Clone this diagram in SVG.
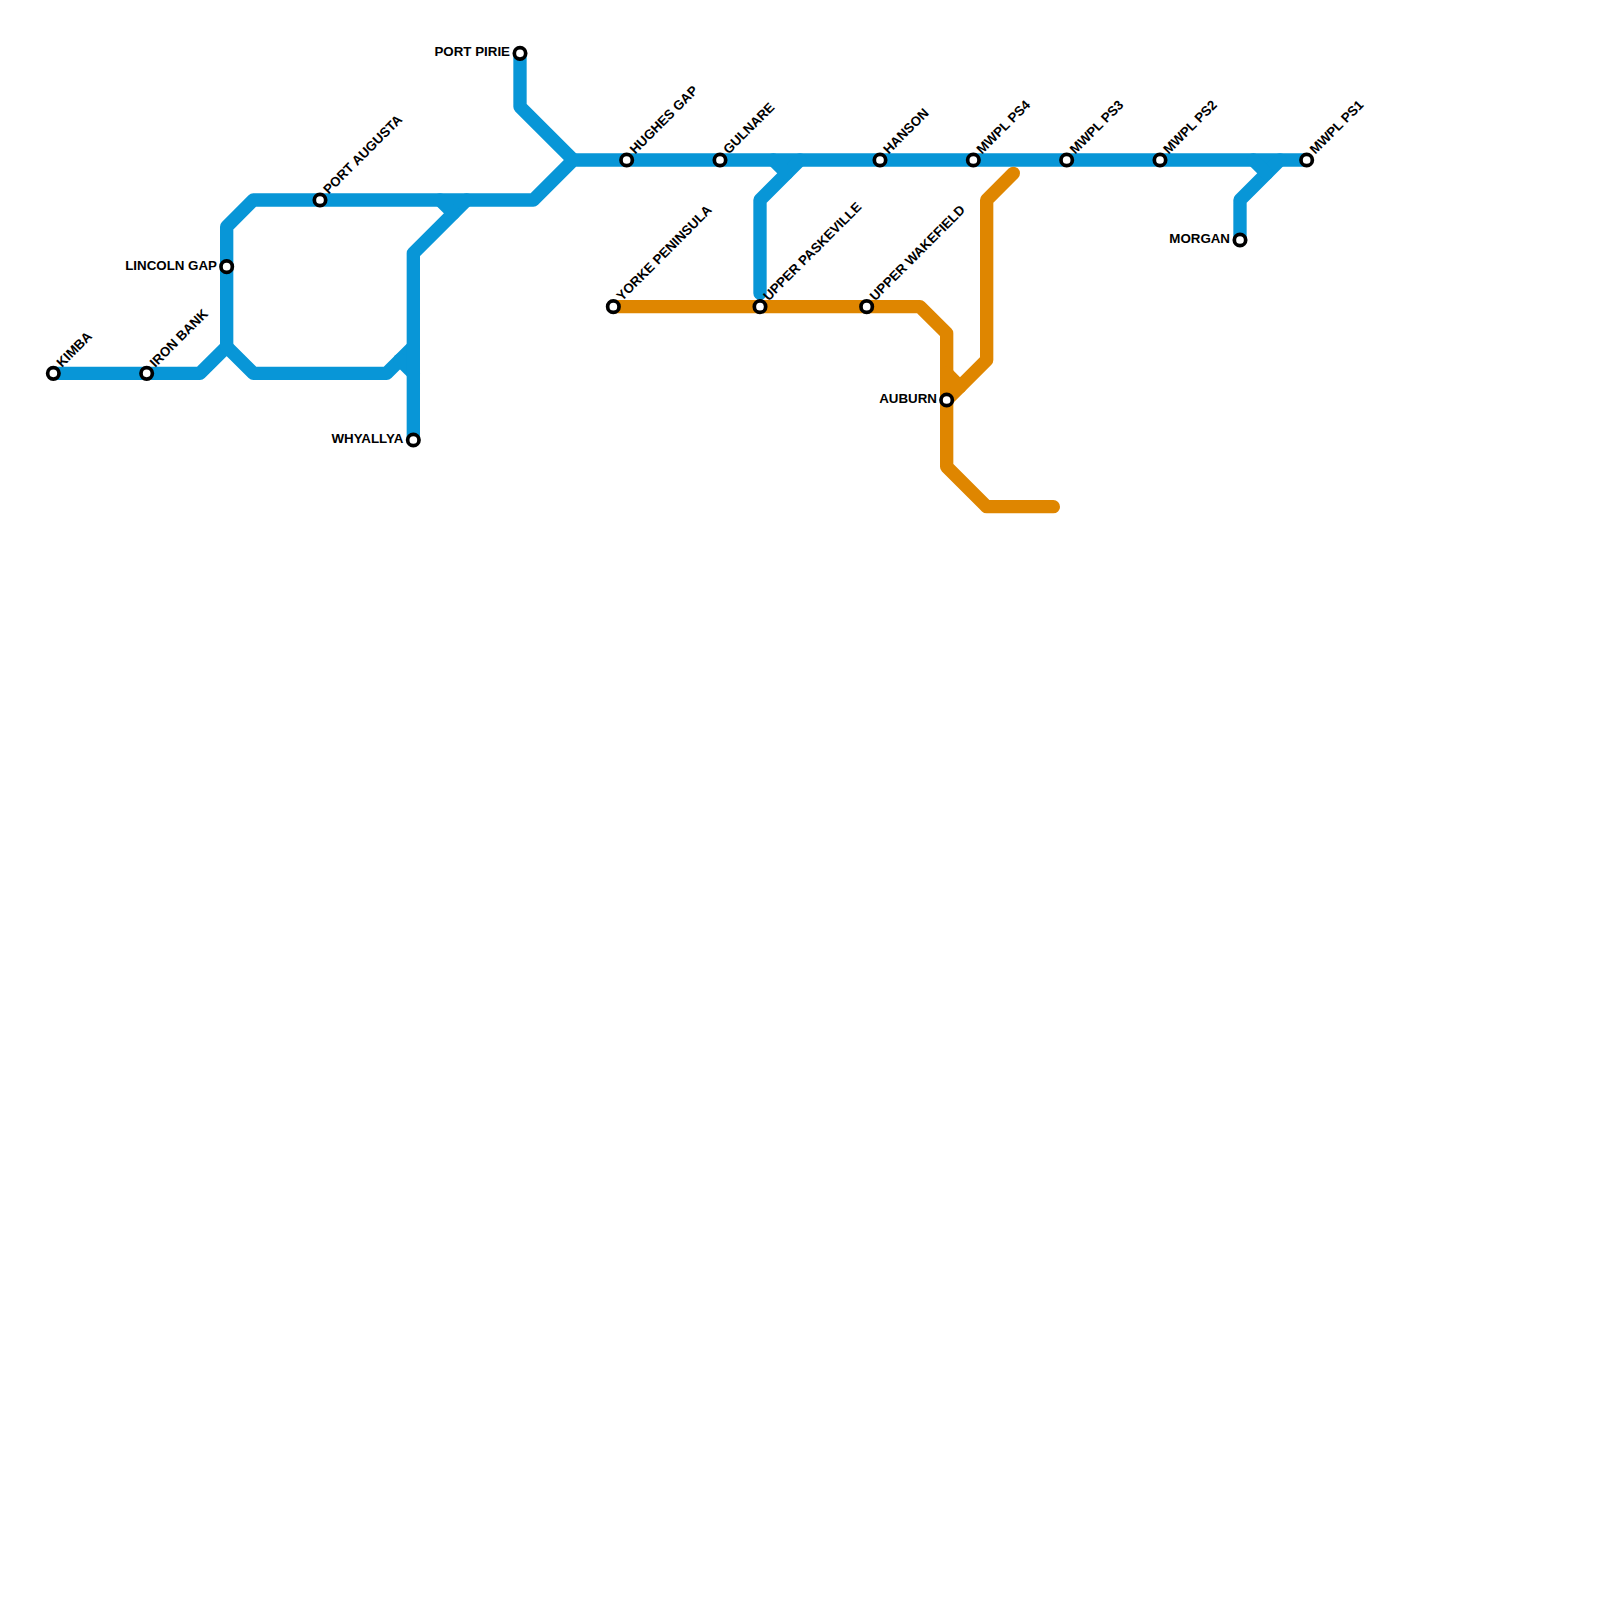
<svg xmlns="http://www.w3.org/2000/svg" width="1600" height="1600" viewBox="0 0 1600 1600">
<style>
.l{fill:none;stroke-width:13.33;stroke-linecap:round;stroke-linejoin:round}
.b{stroke:#0896d7}
.o{stroke:#df8600}
.s{fill:#fff;stroke:#000;stroke-width:3.7}
text{font-family:"Liberation Sans",Arial,sans-serif;font-size:13.33px;font-weight:700;fill:#000}
.e{text-anchor:end}
</style>
<rect width="1600" height="1600" fill="#fff"/>
<g id="connectors">
<path class="l b" d="M53.33 373.33H200L226.67 346.67L253.33 373.33H386.67L413.33 346.67"/>
<path class="l b" d="M400 360L413.33 373.33"/>
<path class="l b" d="M226.67 346.67V226.67L253.33 200H533.33L573.33 160H1306.67"/>
<path class="l b" d="M413.33 440V253.33L466.67 200"/>
<path class="l b" d="M440 200L453.33 213.33"/>
<path class="l b" d="M520 53.33V106.67L573.33 160"/>
<path class="l b" d="M760 293.33V200L800 160"/>
<path class="l b" d="M773.33 160L786.67 173.33"/>
<path class="l b" d="M1240 240V200L1280 160"/>
<path class="l b" d="M1253.33 160L1266.67 173.33"/>
<path class="l o" d="M613.33 306.67H920L946.67 333.33V466.67L986.67 506.67H1053.33"/>
<path class="l o" d="M946.67 400L986.67 360V200L1013.33 173.33"/>
<path class="l o" d="M946.67 373.33L960 386.67"/>
</g>
<g id="kimba"><circle class="s" cx="53.33" cy="373.33" r="5.7"/><text transform="translate(62 368) rotate(-45)">KIMBA</text></g>
<g id="iron-bank"><circle class="s" cx="146.67" cy="373.33" r="5.7"/><text transform="translate(155.3 368) rotate(-45)">IRON BANK</text></g>
<g id="lincoln-gap"><circle class="s" cx="226.67" cy="266.67" r="5.7"/><text class="e" x="217" y="269.6">LINCOLN GAP</text></g>
<g id="port-augusta"><circle class="s" cx="320" cy="200" r="5.7"/><text transform="translate(328.7 194.7) rotate(-45)">PORT AUGUSTA</text></g>
<g id="whyallya"><circle class="s" cx="413.33" cy="440" r="5.7"/><text class="e" x="403.3" y="443">WHYALLYA</text></g>
<g id="port-pirie"><circle class="s" cx="520" cy="53.33" r="5.7"/><text class="e" x="510" y="56.3">PORT PIRIE</text></g>
<g id="hughes-gap"><circle class="s" cx="626.67" cy="160" r="5.7"/><text transform="translate(635.3 154.7) rotate(-45)">HUGHES GAP</text></g>
<g id="gulnare"><circle class="s" cx="720" cy="160" r="5.7"/><text transform="translate(728.7 154.7) rotate(-45)">GULNARE</text></g>
<g id="hanson"><circle class="s" cx="880" cy="160" r="5.7"/><text transform="translate(888.7 154.7) rotate(-45)">HANSON</text></g>
<g id="mwpl-ps4"><circle class="s" cx="973.33" cy="160" r="5.7"/><text transform="translate(982 154.7) rotate(-45)">MWPL PS4</text></g>
<g id="mwpl-ps3"><circle class="s" cx="1066.67" cy="160" r="5.7"/><text transform="translate(1075.3 154.7) rotate(-45)">MWPL PS3</text></g>
<g id="mwpl-ps2"><circle class="s" cx="1160" cy="160" r="5.7"/><text transform="translate(1168.7 154.7) rotate(-45)">MWPL PS2</text></g>
<g id="mwpl-ps1"><circle class="s" cx="1306.67" cy="160" r="5.7"/><text transform="translate(1315.3 154.7) rotate(-45)">MWPL PS1</text></g>
<g id="morgan"><circle class="s" cx="1240" cy="240" r="5.7"/><text class="e" x="1230" y="243">MORGAN</text></g>
<g id="yorke-peninsula"><circle class="s" cx="613.33" cy="306.67" r="5.7"/><text transform="translate(622 301.4) rotate(-45)">YORKE PENINSULA</text></g>
<g id="upper-paskeville"><circle class="s" cx="760" cy="306.67" r="5.7"/><text transform="translate(768.7 301.4) rotate(-45)">UPPER PASKEVILLE</text></g>
<g id="upper-wakefield"><circle class="s" cx="866.67" cy="306.67" r="5.7"/><text transform="translate(875.3 301.4) rotate(-45)">UPPER WAKEFIELD</text></g>
<g id="auburn"><circle class="s" cx="946.67" cy="400" r="5.7"/><text class="e" x="937" y="403">AUBURN</text></g>
</svg>
